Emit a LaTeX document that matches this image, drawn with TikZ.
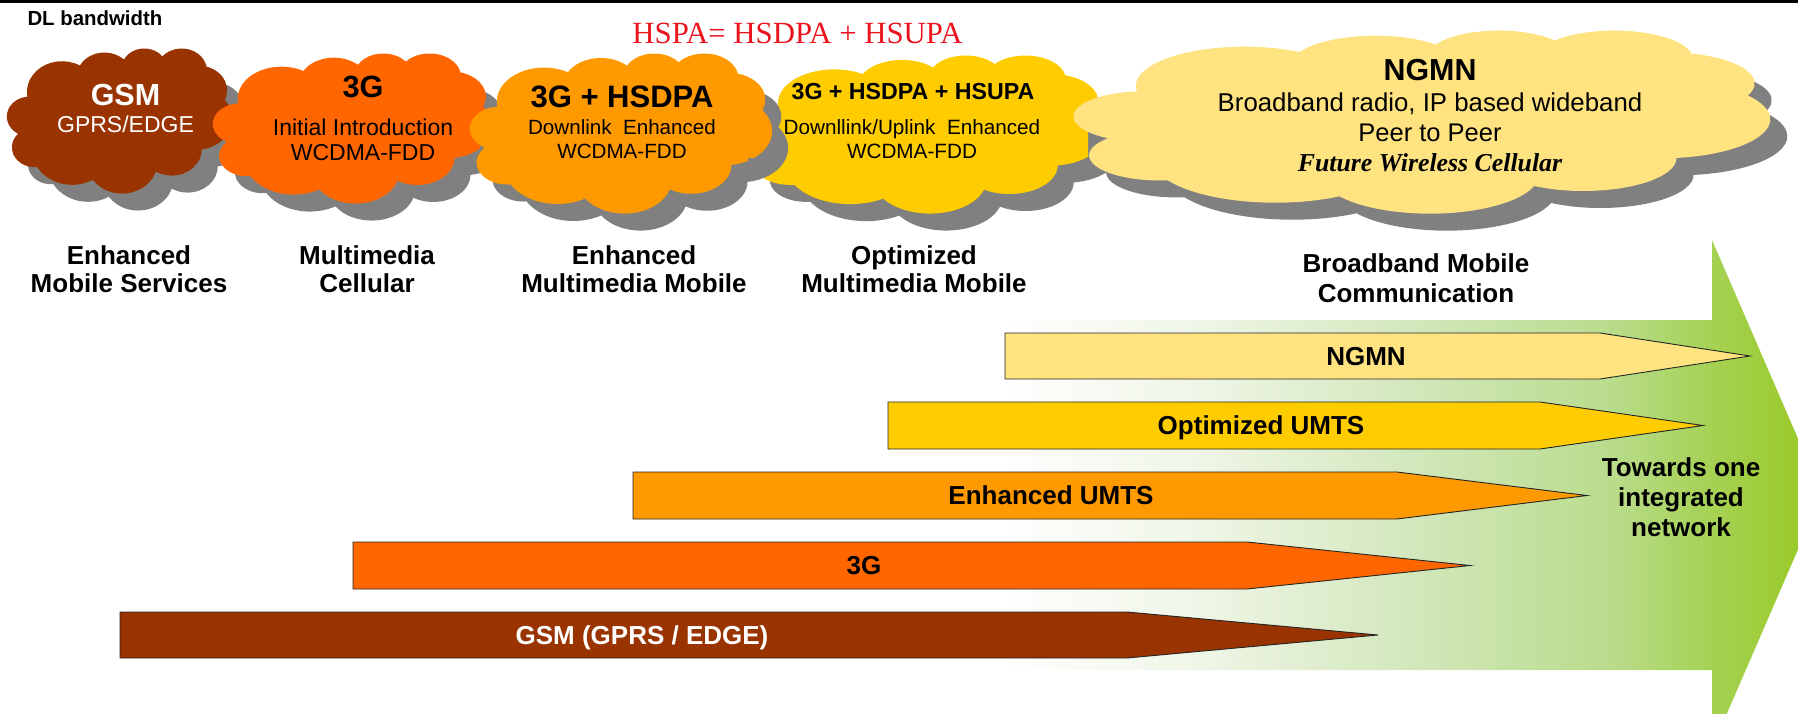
\documentclass[tikz,border=0pt]{standalone}
\usepackage{fontspec}
\setmainfont{Liberation Sans}
\newfontfamily\serifrm{Liberation Serif}

\definecolor{gsmbrown}{HTML}{993300}
\definecolor{umtsorange}{HTML}{FF6600}
\definecolor{hsdpaorange}{HTML}{FF9900}
\definecolor{hsupayellow}{HTML}{FFCC00}
\definecolor{ngmnyellow}{HTML}{FFE380}
\definecolor{cloudgray}{HTML}{808080}
\definecolor{hspared}{RGB}{235,20,30}
\definecolor{fadeA}{RGB}{240,246,232}
\definecolor{fadeB}{RGB}{212,232,190}
\definecolor{fadeC}{RGB}{185,220,140}
\definecolor{fadeD}{RGB}{168,211,92}
\definecolor{fadeE}{RGB}{150,200,30}

% white-to-green fade of the wide background arrow
\pgfdeclarehorizontalshading{greenfade}{100bp}{color(0bp)=(white); color(25.6bp)=(white);
  color(37bp)=(fadeA); color(49.7bp)=(fadeB); color(62.3bp)=(fadeC);
  color(67.4bp)=(fadeD); color(75bp)=(fadeE); color(100bp)=(fadeE)}

\newcommand\fsz[1]{\fontsize{#1}{#1}\selectfont}

% Cloud outline: eleven elliptic arcs on a 43200 x 43200 grid.
% Each arc is given by its radii and by visual start/sweep angles;
% these are turned into parametric angles once, here.
\newcommand\defcloudarc[5]{%
  \pgfmathsetmacro\tmpts{atan2(#2/1000*sin(#4), #3/1000*cos(#4))}%
  \pgfmathsetmacro\tmpte{atan2(#2/1000*sin(#4+#5), #3/1000*cos(#4+#5))}%
  \pgfmathsetmacro\tmpd{\tmpte-\tmpts}%
  \pgfmathsetmacro\tmpd{\tmpd+360*round((#5-\tmpd)/360)}%
  \expandafter\xdef\csname cts#1\endcsname{\tmpts}%
  \expandafter\xdef\csname cdl#1\endcsname{\tmpd}%
}
\defcloudarc{A}{6753}{9190}{-190.4875}{123.7805}
\defcloudarc{B}{5333}{7267}{-144.1024}{89.9452}
\defcloudarc{C}{4365}{5945}{-145.8079}{99.7230}
\defcloudarc{D}{4857}{6595}{-130.9861}{117.2417}
\defcloudarc{E}{5333}{7273}{-78.7089}{109.0269}
\defcloudarc{F}{6775}{9220}{-46.2673}{130.2690}
\defcloudarc{G}{5785}{7867}{0.6250}{114.0333}
\defcloudarc{H}{6752}{9215}{22.4516}{115.1726}
\defcloudarc{I}{7720}{10543}{66.2426}{75.7110}
\defcloudarc{J}{4360}{5918}{-274.9421}{146.7356}
\defcloudarc{K}{4345}{5945}{-246.8285}{152.5189}

% \pptcloud{path options}{left}{top}{width}{height}
\newcommand\pptcloud[5]{%
  \pgfmathsetmacro\csx{#4/43.2}%
  \pgfmathsetmacro\csy{#5/43.2}%
  \path[#1] ({#2+3.900*\csx},{#3+14.370*\csy})
    arc[start angle=\ctsA, delta angle=\cdlA, x radius={6.753*\csx}, y radius={9.190*\csy}]
    arc[start angle=\ctsB, delta angle=\cdlB, x radius={5.333*\csx}, y radius={7.267*\csy}]
    arc[start angle=\ctsC, delta angle=\cdlC, x radius={4.365*\csx}, y radius={5.945*\csy}]
    arc[start angle=\ctsD, delta angle=\cdlD, x radius={4.857*\csx}, y radius={6.595*\csy}]
    arc[start angle=\ctsE, delta angle=\cdlE, x radius={5.333*\csx}, y radius={7.273*\csy}]
    arc[start angle=\ctsF, delta angle=\cdlF, x radius={6.775*\csx}, y radius={9.220*\csy}]
    arc[start angle=\ctsG, delta angle=\cdlG, x radius={5.785*\csx}, y radius={7.867*\csy}]
    arc[start angle=\ctsH, delta angle=\cdlH, x radius={6.752*\csx}, y radius={9.215*\csy}]
    arc[start angle=\ctsI, delta angle=\cdlI, x radius={7.720*\csx}, y radius={10.543*\csy}]
    arc[start angle=\ctsJ, delta angle=\cdlJ, x radius={4.360*\csx}, y radius={5.918*\csy}]
    arc[start angle=\ctsK, delta angle=\cdlK, x radius={4.345*\csx}, y radius={5.945*\csy}]
    -- cycle;
}

\tikzset{
  txt/.style={anchor=base, inner sep=0pt},
  lbl/.style={txt, font=\bfseries\fsz{26}},
  bar/.style={draw=black!85, line width=0.9pt, line join=miter},
}

\begin{document}
\begin{tikzpicture}[x=1pt, y=-1pt]
\useasboundingbox (0,0) rectangle (1798,714);
\clip (0,0) rectangle (1798,714);

% rule along the top edge
\fill[black] (0,0) rectangle (1798,2.7);

\node[txt, anchor=base west, font=\bfseries\fsz{20.4}] (dl) at (27.3,26) {DL bandwidth};
\node[txt, font=\serifrm\fsz{30.8}, text=hspared] (hspa) at (797.5,43.3) {HSPA= HSDPA + HSUPA};

% ---- clouds, each with its grey drop shadow ----
% GSM
\pptcloud{fill=cloudgray}{23}{65}{225}{145}
\pptcloud{fill=gsmbrown}{7}{48}{225}{145}
% 3G
\pptcloud{fill=cloudgray}{229}{70}{279}{150}
\begin{scope}
  \clip (0,0) rectangle (480,714) (480,0) rectangle (700,112);
  \pptcloud{fill=umtsorange}{213}{53}{279}{150}
\end{scope}
% 3G + HSDPA + HSUPA
\pptcloud{fill=cloudgray}{762}{72}{360}{158}
\begin{scope}
  \clip (0,0) rectangle (1088,714) (1088,0) rectangle (1200,115);
  \pptcloud{fill=hsupayellow}{746}{55}{360}{158}
\end{scope}
% 3G + HSDPA
\pptcloud{fill=cloudgray}{486}{70}{302}{160}
\begin{scope}
  \clip (0,0) rectangle (748,714) (748,0) rectangle (900,158);
  \pptcloud{fill=hsdpaorange}{470}{53}{302}{160}
\end{scope}
% NGMN
\pptcloud{fill=cloudgray}{1091}{47}{696}{183}
\pptcloud{fill=ngmnyellow}{1074}{30}{696}{183}

% ---- cloud texts ----
\node[txt, text=white, font=\bfseries\fsz{30.5}] (gsmA) at (125.5,106) {GSM};
\node[txt, text=white, font=\fsz{23}] (gsmB) at (125.5,132.3) {GPRS/EDGE};

\node[txt, font=\bfseries\fsz{30.7}] (tgA) at (363,98) {3G};
\node[txt, font=\fsz{23}] (tgB) at (363,135.3) {Initial Introduction};
\node[txt, font=\fsz{23}] (tgC) at (363,160.3) {WCDMA-FDD};

\node[txt, font=\bfseries\fsz{31}] (hsdpaA) at (622,108) {3G + HSDPA};
\node[txt, font=\fsz{20.6}] (hsdpaB) at (622,134.4) {Downlink\ \ Enhanced};
\node[txt, font=\fsz{20.6}] (hsdpaC) at (622,158.4) {WCDMA-FDD};

\node[txt, font=\bfseries\fsz{23.2}] (hsupaA) at (913,100) {3G + HSDPA + HSUPA};
\node[txt, font=\fsz{20.7}] (hsupaB) at (912,134.4) {Downllink/Uplink\ \ Enhanced};
\node[txt, font=\fsz{20.7}] (hsupaC) at (912,158.4) {WCDMA-FDD};

\node[txt, font=\bfseries\fsz{30.4}] (ngmnA) at (1430,81) {NGMN};
\node[txt, font=\fsz{25.8}] (ngmnB) at (1430,111.8) {Broadband radio, IP based wideband};
\node[txt, font=\fsz{25.5}] (ngmnC) at (1430,141.7) {Peer to Peer};
\node[txt, font=\serifrm\bfseries\itshape\fsz{25.8}] (ngmnD) at (1430,171.6) {Future Wireless Cellular};

% ---- captions under the clouds ----
\node[lbl] (capA1) at (129,264) {Enhanced};
\node[lbl] (capA2) at (129,292.5) {Mobile Services};
\node[lbl] (capB1) at (367,264) {Multimedia};
\node[lbl] (capB2) at (367,292.5) {Cellular};
\node[lbl] (capC1) at (634,264) {Enhanced};
\node[lbl] (capC2) at (634,292.5) {Multimedia Mobile};
\node[lbl] (capD1) at (914,264) {Optimized};
\node[lbl] (capD2) at (914,292.5) {Multimedia Mobile};
\node[lbl] (capE1) at (1416,272) {Broadband Mobile};
\node[lbl] (capE2) at (1416,302) {Communication};

% ---- wide background arrow ----
\shade[shading=greenfade] (990,320) -- (1712,320) -- (1712,240) -- (1822,494)
  -- (1712,748) -- (1712,670) -- (990,670) -- cycle;

% ---- technology bars ----
\draw[bar, fill=ngmnyellow]  (1005,333) -- (1600,333) -- (1750,356)   -- (1600,379) -- (1005,379) -- cycle;
\draw[bar, fill=hsupayellow] (888,402)  -- (1540,402) -- (1703,425.5) -- (1540,449) -- (888,449)  -- cycle;
\draw[bar, fill=hsdpaorange] (633,472)  -- (1397,472) -- (1587,495.5) -- (1397,519) -- (633,519)  -- cycle;
\draw[bar, fill=umtsorange]  (353,542)  -- (1247,542) -- (1470,565.5) -- (1247,589) -- (353,589)  -- cycle;
\draw[bar, fill=gsmbrown]    (120,612)  -- (1127,612) -- (1378,635)   -- (1127,658) -- (120,658)  -- cycle;

\node[lbl] (barA) at (1366,365.3) {NGMN};
\node[lbl] (barB) at (1261,434.8) {Optimized UMTS};
\node[lbl] (barC) at (1051,504.8) {Enhanced UMTS};
\node[lbl] (barD) at (864,574.8) {3G};
\node[lbl, text=white] (barE) at (642,644.3) {GSM (GPRS / EDGE)};

\node[lbl] (towA) at (1681,476.5) {Towards one};
\node[lbl] (towB) at (1681,506.5) {integrated};
\node[lbl] (towC) at (1681,536.5) {network};
\end{tikzpicture}
\end{document}
